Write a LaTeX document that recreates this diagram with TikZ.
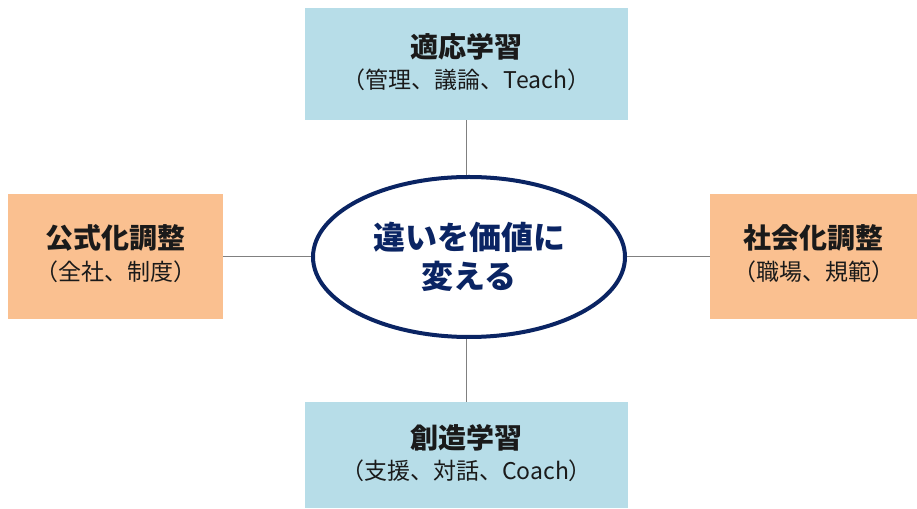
\documentclass[tikz,border=0pt]{standalone}
\usepackage{fontspec}
\setmainfont{Noto Sans CJK JP}
\usetikzlibrary{shapes.geometric}
\definecolor{boxblue}{HTML}{B7DDE8}
\definecolor{boxorange}{HTML}{FAC090}
\definecolor{navy}{HTML}{0A2463}
\definecolor{linegray}{HTML}{808080}
\definecolor{txt}{HTML}{1A1A1A}
\tikzset{
  x=1pt,y=1pt,
  catbox/.style={rectangle, inner sep=0pt, text=txt, align=center},
  link/.style={draw=linegray, line width=1.5pt},
  titletxt/.style={text=txt, font=\fontsize{28}{32}\selectfont\bfseries},
  subtxt/.style={text=txt, font=\fontsize{23}{27}\selectfont},
}
\begin{document}
\begin{tikzpicture}
\useasboundingbox (0,0) rectangle (917,508);
% boxes (y = 508 - px)
\node[catbox, fill=boxblue, minimum width=323pt, minimum height=112pt] (top) at (466.5,444) {};
\node[catbox, fill=boxblue, minimum width=323pt, minimum height=106pt] (bot) at (466.5,53) {};
\node[catbox, fill=boxorange, minimum width=215pt, minimum height=125pt] (left) at (115.5,251.5) {};
\node[catbox, fill=boxorange, minimum width=207pt, minimum height=125pt] (right) at (813.5,251.5) {};
% ellipse
\node[ellipse, draw=navy, line width=4pt, fill=white, minimum width=312pt, minimum height=160pt, inner sep=0pt, text=navy, align=center, font=\fontsize{32}{39}\selectfont\bfseries] (hub) at (469,251) {違いを価値に\\変える};
% connectors
\draw[link] (top.south) -- (top.south |- hub.north);
\draw[link] (bot.north) -- (bot.north |- hub.south);
\draw[link] (left.east) -- (left.east -| hub.west);
\draw[link] (right.west) -- (right.west -| hub.east);
% texts
\node[titletxt] (toptitle) at (466.5,461) {適応学習};
\node[subtxt] (topsub) at (466.5,428) {（管理、議論、Teach）};
\node[titletxt] (bottitle) at (466.5,70) {創造学習};
\node[subtxt] (botsub) at (466.5,37) {（支援、対話、Coach）};
\node[titletxt] (lefttitle) at (115.5,270) {公式化調整};
\node[subtxt] (leftsub) at (115.5,236) {（全社、制度）};
\node[titletxt] (righttitle) at (813.5,270) {社会化調整};
\node[subtxt] (rightsub) at (813.5,236) {（職場、規範）};
\end{tikzpicture}
\end{document}
